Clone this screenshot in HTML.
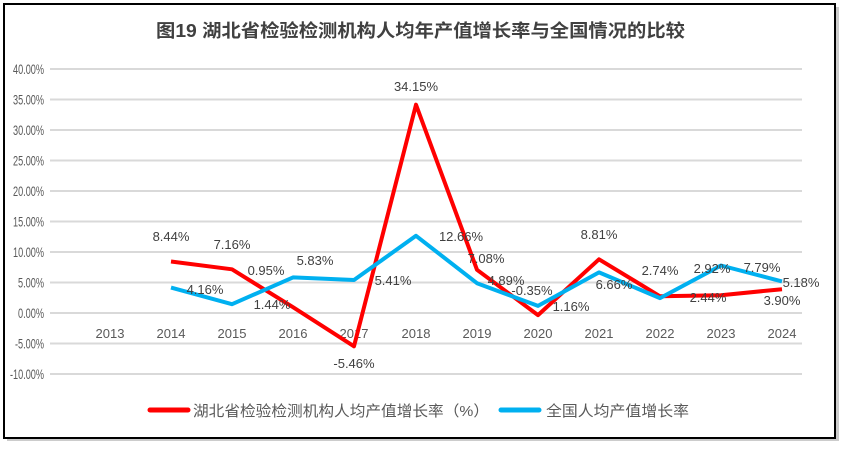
<!DOCTYPE html>
<html><head><meta charset="utf-8"><style>
body{margin:0;background:#fff;width:844px;height:449px;overflow:hidden}
svg{font-family:"Liberation Sans","Noto Sans CJK SC",sans-serif}
</style></head><body>
<svg width="844" height="449" xmlns="http://www.w3.org/2000/svg">
<rect x="7" y="7" width="832" height="434" fill="#999" opacity="0.5"/>
<rect x="4" y="4" width="831" height="434" fill="#fff" stroke="#000" stroke-width="2"/>
<text x="156" y="37" font-size="18" font-weight="bold" fill="#404040" textLength="529" lengthAdjust="spacingAndGlyphs">图19  湖北省检验检测机构人均年产值增长率与全国情况的比较</text>
<g stroke="#d9d9d9" stroke-width="2">
<line x1="50" x2="802" y1="69" y2="69"/><line x1="50" x2="802" y1="99.5" y2="99.5"/>
<line x1="50" x2="802" y1="130" y2="130"/><line x1="50" x2="802" y1="160.5" y2="160.5"/>
<line x1="50" x2="802" y1="191" y2="191"/><line x1="50" x2="802" y1="221.5" y2="221.5"/>
<line x1="50" x2="802" y1="252" y2="252"/><line x1="50" x2="802" y1="282.5" y2="282.5"/>
<line x1="50" x2="802" y1="313" y2="313"/><line x1="50" x2="802" y1="343.5" y2="343.5"/>
<line x1="50" x2="802" y1="374" y2="374"/>
</g>
<g font-size="14" fill="#595959">
<text x="13" y="74" textLength="31" lengthAdjust="spacingAndGlyphs">40.00%</text>
<text x="13" y="104.5" textLength="31" lengthAdjust="spacingAndGlyphs">35.00%</text>
<text x="13" y="135" textLength="31" lengthAdjust="spacingAndGlyphs">30.00%</text>
<text x="13" y="165.5" textLength="31" lengthAdjust="spacingAndGlyphs">25.00%</text>
<text x="13" y="196" textLength="31" lengthAdjust="spacingAndGlyphs">20.00%</text>
<text x="13" y="226.5" textLength="31" lengthAdjust="spacingAndGlyphs">15.00%</text>
<text x="13" y="257" textLength="31" lengthAdjust="spacingAndGlyphs">10.00%</text>
<text x="18" y="287.5" textLength="26" lengthAdjust="spacingAndGlyphs">5.00%</text>
<text x="18" y="318" textLength="26" lengthAdjust="spacingAndGlyphs">0.00%</text>
<text x="15" y="348.5" textLength="29" lengthAdjust="spacingAndGlyphs">-5.00%</text>
<text x="10" y="379" textLength="34" lengthAdjust="spacingAndGlyphs">-10.00%</text>
</g>
<g font-size="13" fill="#595959" text-anchor="middle">
<text x="110" y="338">2013</text><text x="171" y="338">2014</text><text x="232" y="338">2015</text>
<text x="293" y="338">2016</text><text x="354" y="338">2017</text><text x="416" y="338">2018</text>
<text x="477" y="338">2019</text><text x="538" y="338">2020</text><text x="599" y="338">2021</text>
<text x="660" y="338">2022</text><text x="721" y="338">2023</text><text x="782" y="338">2024</text>
</g>
<polyline fill="none" stroke="#ff0000" stroke-width="4" stroke-linejoin="round" points="171,261.5 232,269.3 293,307.2 354,346.3 416,104.7 477,269.8 538,315.1 599,259.3 660,296.3 721,295.2 782,289.2"/>
<polyline fill="none" stroke="#00b0f0" stroke-width="4" stroke-linejoin="round" points="171,287.6 232,304.2 293,277.4 354,280 416,235.8 477,283.2 538,305.9 599,272.4 660,298.1 721,265.5 782,281.4"/>
<g font-size="13" fill="#404040" text-anchor="middle">
<text x="171" y="241">8.44%</text><text x="232" y="249">7.16%</text><text x="266" y="275">0.95%</text>
<text x="354" y="368">-5.46%</text><text x="416" y="91">34.15%</text><text x="486" y="263">7.08%</text>
<text x="532" y="295">-0.35%</text><text x="599" y="239">8.81%</text><text x="660" y="275">2.74%</text>
<text x="712" y="273">2.92%</text><text x="782" y="305">3.90%</text>
<text x="205" y="294">4.16%</text><text x="272" y="309">1.44%</text><text x="315" y="265">5.83%</text>
<text x="393" y="285">5.41%</text><text x="461" y="241">12.66%</text><text x="506" y="285">4.89%</text>
<text x="571" y="311">1.16%</text><text x="614" y="289">6.66%</text><text x="708" y="302">2.44%</text>
<text x="762" y="272">7.79%</text><text x="801" y="287">5.18%</text>
</g>
<line x1="150" x2="188" y1="410" y2="410" stroke="#ff0000" stroke-width="5" stroke-linecap="round"/>
<text x="193" y="416" font-size="15" fill="#595959" textLength="296" lengthAdjust="spacingAndGlyphs">湖北省检验检测机构人均产值增长率（%）</text>
<line x1="501" x2="539" y1="410" y2="410" stroke="#00b0f0" stroke-width="5" stroke-linecap="round"/>
<text x="546" y="416" font-size="15" fill="#595959" textLength="143" lengthAdjust="spacingAndGlyphs">全国人均产值增长率</text>
</svg>
</body></html>
